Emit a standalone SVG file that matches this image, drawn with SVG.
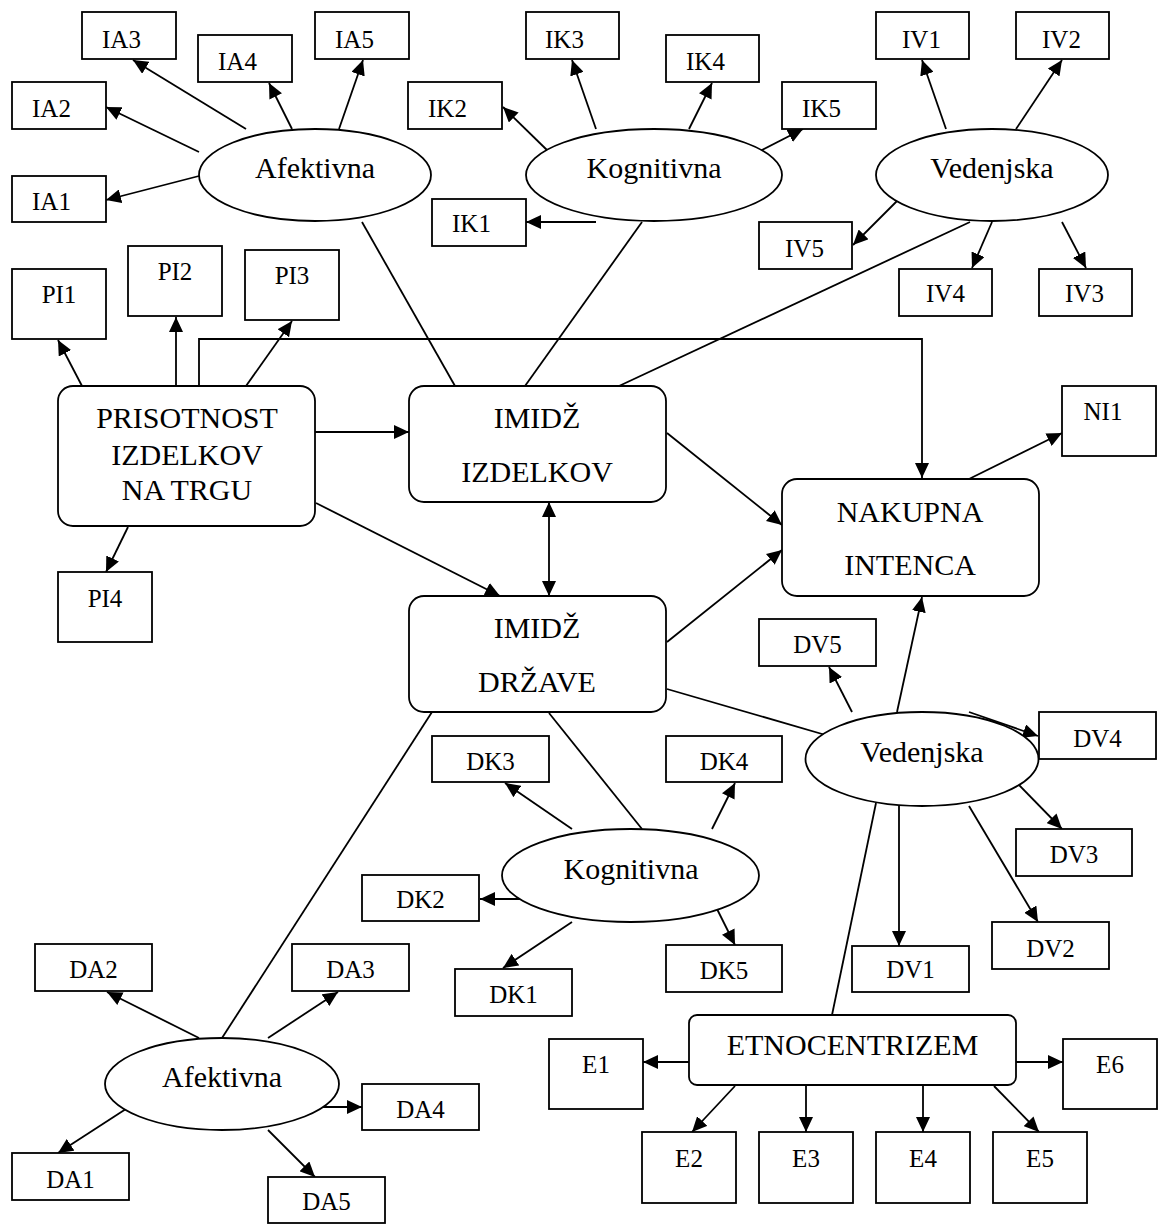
<svg xmlns="http://www.w3.org/2000/svg" width="1158" height="1226" viewBox="0 0 1158 1226">
  <defs>
    <marker id="arr" markerUnits="userSpaceOnUse" markerWidth="15" markerHeight="14" refX="15" refY="7" orient="auto-start-reverse">
      <path d="M0,0 L15,7 L0,14 z" fill="#000"/>
    </marker>
    <style>
      .node rect, .node ellipse { fill: #fff; stroke: #000; stroke-width: 1.8; }
      .conn line, .conn polyline { stroke: #000; stroke-width: 1.8; fill: none; }
      .a { marker-end: url(#arr); }
      text { font-family: "Liberation Serif", "Times New Roman", serif; fill: #000; text-anchor: middle; }
      .s { font-size: 25px; }
      .b { font-size: 30px; }
    </style>
  </defs>
  <rect x="0" y="0" width="1158" height="1226" style="fill:#fff;stroke:none"/>

  <!-- connectors -->
  <g class="conn">
    <line class="a" x1="246" y1="129" x2="133" y2="60"/>
    <line class="a" x1="199" y1="152" x2="106" y2="107"/>
    <line class="a" x1="199" y1="176" x2="106" y2="200"/>
    <line class="a" x1="292" y1="129" x2="269" y2="83"/>
    <line class="a" x1="339" y1="129" x2="363" y2="60"/>
    <line class="a" x1="596" y1="129" x2="572" y2="60"/>
    <line class="a" x1="689" y1="129" x2="712" y2="83"/>
    <line class="a" x1="549" y1="152" x2="503" y2="107"/>
    <line class="a" x1="596" y1="222" x2="526" y2="222"/>
    <line class="a" x1="758" y1="152" x2="803" y2="129"/>
    <line class="a" x1="946" y1="129" x2="922" y2="60"/>
    <line class="a" x1="1016" y1="129" x2="1062" y2="60"/>
    <line class="a" x1="899" y1="199" x2="853" y2="245"/>
    <line class="a" x1="992" y1="222" x2="972" y2="268"/>
    <line class="a" x1="1062" y1="222" x2="1086" y2="268"/>
    <line class="a" x1="82" y1="386" x2="58" y2="340"/>
    <line class="a" x1="176" y1="386" x2="176" y2="317"/>
    <line class="a" x1="246" y1="386" x2="292" y2="321"/>
    <line class="a" x1="128" y1="527" x2="106" y2="572"/>
    <polyline class="a" points="199,386 199,339 922,339 922,478"/>
    <line class="a" x1="315" y1="432" x2="409" y2="432"/>
    <line class="a" x1="316" y1="503" x2="500" y2="596"/>
    <line class="a" x1="549" y1="502" x2="549" y2="596" marker-start="url(#arr)"/>
    <line class="a" x1="667" y1="433" x2="782" y2="525"/>
    <line class="a" x1="667" y1="642" x2="782" y2="550"/>
    <line class="a" x1="969" y1="479" x2="1062" y2="433"/>
    <line class="a" x1="897" y1="712" x2="922" y2="597"/>
    <line class="a" x1="852" y1="712" x2="829" y2="667"/>
    <line class="a" x1="969" y1="712" x2="1038" y2="736"/>
    <line class="a" x1="1016" y1="782" x2="1062" y2="829"/>
    <line class="a" x1="969" y1="806" x2="1038" y2="922"/>
    <line class="a" x1="899" y1="806" x2="899" y2="946"/>
    <line class="a" x1="572" y1="829" x2="505" y2="783"/>
    <line class="a" x1="712" y1="829" x2="735" y2="783"/>
    <line class="a" x1="526" y1="899" x2="480" y2="899"/>
    <line class="a" x1="572" y1="922" x2="503" y2="968"/>
    <line class="a" x1="712" y1="899" x2="735" y2="945"/>
    <line class="a" x1="199" y1="1038" x2="107" y2="992"/>
    <line class="a" x1="268" y1="1038" x2="338" y2="992"/>
    <line class="a" x1="315" y1="1107" x2="362" y2="1107"/>
    <line class="a" x1="129" y1="1107" x2="58" y2="1153"/>
    <line class="a" x1="268" y1="1130" x2="315" y2="1177"/>
    <line class="a" x1="689" y1="1062" x2="643" y2="1062"/>
    <line class="a" x1="1016" y1="1062" x2="1063" y2="1062"/>
    <line class="a" x1="735" y1="1086" x2="692" y2="1132"/>
    <line class="a" x1="806" y1="1086" x2="806" y2="1132"/>
    <line class="a" x1="923" y1="1086" x2="923" y2="1132"/>
    <line class="a" x1="994" y1="1086" x2="1039" y2="1132"/>
    <!-- undirected links -->
    <line x1="362" y1="222" x2="455" y2="386"/>
    <line x1="642" y1="222" x2="525" y2="386"/>
    <line x1="970" y1="222" x2="619" y2="386"/>
    <line x1="667" y1="689" x2="829" y2="736"/>
    <line x1="549" y1="713" x2="642" y2="829"/>
    <line x1="432" y1="712" x2="222" y2="1038"/>
    <line x1="876" y1="803" x2="832" y2="1015"/>
  </g>

  <g class="node">
  <!-- product image: affective -->
  <g id="afektivna-izdelki"><ellipse cx="315" cy="175" rx="116" ry="46"/><text class="b" x="315" y="178">Afektivna</text></g>
  <g id="IA1"><rect x="12" y="176" width="94" height="46"/><text class="s" x="51.5" y="210">IA1</text></g>
  <g id="IA2"><rect x="12" y="82" width="94" height="47"/><text class="s" x="51.5" y="117">IA2</text></g>
  <g id="IA3"><rect x="82" y="12" width="94" height="47"/><text class="s" x="121.5" y="48">IA3</text></g>
  <g id="IA4"><rect x="198" y="35" width="94" height="47"/><text class="s" x="237.5" y="70">IA4</text></g>
  <g id="IA5"><rect x="315" y="12" width="94" height="47"/><text class="s" x="354.5" y="48">IA5</text></g>

  <!-- product image: cognitive -->
  <g id="kognitivna-izdelki"><ellipse cx="654" cy="175" rx="128" ry="46"/><text class="b" x="654" y="178">Kognitivna</text></g>
  <g id="IK1"><rect x="432" y="199" width="94" height="47"/><text class="s" x="471.5" y="232">IK1</text></g>
  <g id="IK2"><rect x="408" y="82" width="94" height="47"/><text class="s" x="447.5" y="117">IK2</text></g>
  <g id="IK3"><rect x="526" y="12" width="93" height="47"/><text class="s" x="564.5" y="48">IK3</text></g>
  <g id="IK4"><rect x="666" y="35" width="93" height="47"/><text class="s" x="705.5" y="70">IK4</text></g>
  <g id="IK5"><rect x="782" y="82" width="94" height="47"/><text class="s" x="821.5" y="117">IK5</text></g>

  <!-- product image: conative -->
  <g id="vedenjska-izdelki"><ellipse cx="992" cy="175" rx="116" ry="46"/><text class="b" x="992" y="178">Vedenjska</text></g>
  <g id="IV1"><rect x="876" y="12" width="93" height="47"/><text class="s" x="921.5" y="48">IV1</text></g>
  <g id="IV2"><rect x="1016" y="12" width="93" height="47"/><text class="s" x="1061.5" y="48">IV2</text></g>
  <g id="IV3"><rect x="1039" y="269" width="93" height="47"/><text class="s" x="1084.5" y="302">IV3</text></g>
  <g id="IV4"><rect x="899" y="269" width="93" height="47"/><text class="s" x="945.5" y="302">IV4</text></g>
  <g id="IV5"><rect x="759" y="222" width="93" height="47"/><text class="s" x="804.5" y="257">IV5</text></g>

  <!-- market presence -->
  <g id="PI1"><rect x="12" y="269" width="94" height="70"/><text class="s" x="59" y="303">PI1</text></g>
  <g id="PI2"><rect x="128" y="246" width="94" height="70"/><text class="s" x="175" y="280">PI2</text></g>
  <g id="PI3"><rect x="245" y="250" width="94" height="70"/><text class="s" x="292" y="284">PI3</text></g>
  <g id="PI4"><rect x="58" y="572" width="94" height="70"/><text class="s" x="105" y="607">PI4</text></g>
  <g id="prisotnost"><rect x="58" y="386" width="257" height="140" rx="15"/>
    <text class="b" x="187" y="428">PRISOTNOST</text><text class="b" x="187" y="465">IZDELKOV</text><text class="b" x="187" y="500">NA TRGU</text></g>

  <!-- central constructs -->
  <g id="imidz-izdelkov"><rect x="409" y="386" width="257" height="116" rx="15"/>
    <text class="b" x="537" y="428">IMIDŽ</text><text class="b" x="537" y="482">IZDELKOV</text></g>
  <g id="imidz-drzave"><rect x="409" y="596" width="257" height="116" rx="15"/>
    <text class="b" x="537" y="638">IMIDŽ</text><text class="b" x="537" y="692">DRŽAVE</text></g>
  <g id="nakupna-intenca"><rect x="782" y="479" width="257" height="117" rx="15"/>
    <text class="b" x="910" y="522">NAKUPNA</text><text class="b" x="910" y="575">INTENCA</text></g>
  <g id="NI1"><rect x="1062" y="386" width="94" height="70"/><text class="s" x="1103" y="420">NI1</text></g>

  <!-- country image: conative -->
  <g id="vedenjska-drzava"><ellipse cx="922" cy="759" rx="116.5" ry="47"/><text class="b" x="922" y="762">Vedenjska</text></g>
  <g id="DV1"><rect x="852" y="946" width="117" height="46"/><text class="s" x="910.5" y="978">DV1</text></g>
  <g id="DV2"><rect x="992" y="922" width="117" height="47"/><text class="s" x="1050.5" y="957">DV2</text></g>
  <g id="DV3"><rect x="1016" y="829" width="116" height="47"/><text class="s" x="1074" y="863">DV3</text></g>
  <g id="DV4"><rect x="1039" y="712" width="117" height="47"/><text class="s" x="1097.5" y="747">DV4</text></g>
  <g id="DV5"><rect x="759" y="619" width="117" height="47"/><text class="s" x="817.5" y="653">DV5</text></g>

  <!-- country image: cognitive -->
  <g id="kognitivna-drzava"><ellipse cx="630.5" cy="875.5" rx="128.5" ry="46.5"/><text class="b" x="631" y="879">Kognitivna</text></g>
  <g id="DK1"><rect x="455" y="969" width="117" height="47"/><text class="s" x="513.5" y="1003">DK1</text></g>
  <g id="DK2"><rect x="362" y="875" width="117" height="46"/><text class="s" x="420.5" y="908">DK2</text></g>
  <g id="DK3"><rect x="432" y="736" width="117" height="46"/><text class="s" x="490.5" y="770">DK3</text></g>
  <g id="DK4"><rect x="666" y="736" width="116" height="46"/><text class="s" x="724" y="770">DK4</text></g>
  <g id="DK5"><rect x="666" y="945" width="116" height="47"/><text class="s" x="724" y="979">DK5</text></g>

  <!-- country image: affective -->
  <g id="afektivna-drzava"><ellipse cx="222" cy="1084" rx="117" ry="46"/><text class="b" x="222" y="1087">Afektivna</text></g>
  <g id="DA1"><rect x="12" y="1153" width="117" height="47"/><text class="s" x="70.5" y="1188">DA1</text></g>
  <g id="DA2"><rect x="35" y="944" width="117" height="47"/><text class="s" x="93.5" y="978">DA2</text></g>
  <g id="DA3"><rect x="292" y="944" width="117" height="47"/><text class="s" x="350.5" y="978">DA3</text></g>
  <g id="DA4"><rect x="362" y="1084" width="117" height="46"/><text class="s" x="420.5" y="1118">DA4</text></g>
  <g id="DA5"><rect x="268" y="1177" width="117" height="46"/><text class="s" x="326.5" y="1210">DA5</text></g>

  <!-- ethnocentrism -->
  <g id="etnocentrizem"><rect x="689" y="1015" width="327" height="70" rx="8"/><text class="b" x="852.5" y="1055">ETNOCENTRIZEM</text></g>
  <g id="E1"><rect x="549" y="1039" width="94" height="70"/><text class="s" x="596" y="1073">E1</text></g>
  <g id="E2"><rect x="642" y="1132" width="94" height="71"/><text class="s" x="689" y="1167">E2</text></g>
  <g id="E3"><rect x="759" y="1132" width="94" height="71"/><text class="s" x="806" y="1167">E3</text></g>
  <g id="E4"><rect x="876" y="1132" width="94" height="71"/><text class="s" x="923" y="1167">E4</text></g>
  <g id="E5"><rect x="993" y="1132" width="94" height="71"/><text class="s" x="1040" y="1167">E5</text></g>
  <g id="E6"><rect x="1063" y="1039" width="94" height="70"/><text class="s" x="1110" y="1073">E6</text></g>
  </g>
</svg>
